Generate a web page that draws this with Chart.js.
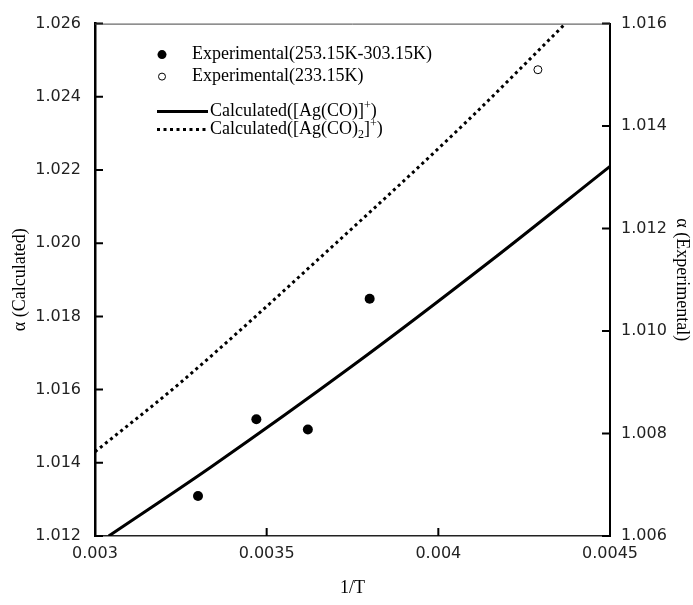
<!DOCTYPE html>
<html>
<head>
<meta charset="utf-8">
<script src="https://cdn.jsdelivr.net/npm/chart.js@4.4.0/dist/chart.umd.min.js"></script>
<style>
  html, body { margin: 0; padding: 0; background: #fff; }
</style>
</head>
<body>
<canvas id="alpha-chart" width="693" height="605"></canvas>
<script>
// values (x = 1/T)
const expX = [0.00330, 0.00347, 0.00362, 0.00380];
const expY = [1.00678, 1.00828, 1.00808, 1.01063];
const exp233X = [0.00429];
const exp233Y = [1.0151];
const calc1X = [0.00304, 0.00334, 0.00375, 0.00415, 0.0045];
const calc1Y = [1.0120, 1.0139, 1.01665, 1.0195, 1.0221];
const calc2X = [0.0030, 0.00325, 0.00369, 0.00408, 0.00437];
const calc2Y = [1.0143, 1.0162, 1.0199, 1.0233, 1.0260];

const xTicks = [0.003, 0.0035, 0.004, 0.0045];
const xTickLabels = ['0.003', '0.0035', '0.004', '0.0045'];
const yLeftTicks = [1.012, 1.014, 1.016, 1.018, 1.020, 1.022, 1.024, 1.026];
const yLeftLabels = ['1.012', '1.014', '1.016', '1.018', '1.020', '1.022', '1.024', '1.026'];
const yRightTicks = [1.006, 1.008, 1.010, 1.012, 1.014, 1.016];
const yRightLabels = ['1.006', '1.008', '1.010', '1.012', '1.014', '1.016'];

const toPts = (xs, ys) => xs.map((x, i) => ({ x: x, y: ys[i] }));

const serif = 'Liberation Serif';
const tickFont = { family: 'DejaVu Sans', size: 16 };
const titleFont = { family: serif, size: 18 };

// inward tick marks + top frame line
const innerTicks = {
  id: 'innerTicks',
  afterDatasetsDraw(chart) {
    const { ctx, chartArea: a, scales } = chart;
    ctx.save();
    ctx.strokeStyle = '#000';
    ctx.lineWidth = 2;
    ctx.beginPath();
    scales.y.ticks.forEach(t => {
      const py = scales.y.getPixelForValue(t.value);
      ctx.moveTo(a.left, py); ctx.lineTo(a.left + 8, py);
    });
    scales.y2.ticks.forEach(t => {
      const py = scales.y2.getPixelForValue(t.value);
      ctx.moveTo(a.right, py); ctx.lineTo(a.right - 8, py);
    });
    scales.x.ticks.forEach(t => {
      const px = scales.x.getPixelForValue(t.value);
      ctx.moveTo(px, a.bottom); ctx.lineTo(px, a.bottom - 8);
    });
    ctx.stroke();
    ctx.strokeStyle = '#444';
    ctx.lineWidth = 1;
    ctx.beginPath();
    ctx.moveTo(a.left, a.top + 0.5); ctx.lineTo(a.right, a.top + 0.5);
    ctx.stroke();
    ctx.restore();
  }
};

// legend drawn inside the plot, like the original
const legendBox = {
  id: 'legendBox',
  afterDraw(chart) {
    const { ctx, chartArea: a } = chart;
    const mx = a.left + 67;
    const rows = [a.top + 31, a.top + 53, a.top + 88, a.top + 106];
    ctx.save();
    ctx.fillStyle = '#000';
    ctx.strokeStyle = '#000';
    ctx.textBaseline = 'middle';
    ctx.font = '18px "' + serif + '"';

    ctx.beginPath(); ctx.arc(mx, rows[0], 4.5, 0, Math.PI * 2); ctx.fill();
    ctx.fillText('Experimental(253.15K-303.15K)', a.left + 97, rows[0]);

    ctx.lineWidth = 1;
    ctx.beginPath(); ctx.arc(mx, rows[1], 3.5, 0, Math.PI * 2); ctx.stroke();
    ctx.fillText('Experimental(233.15K)', a.left + 97, rows[1]);

    ctx.lineWidth = 3;
    ctx.beginPath(); ctx.moveTo(a.left + 62, rows[2]); ctx.lineTo(a.left + 113, rows[2]); ctx.stroke();
    ctx.setLineDash([3, 3.5]);
    ctx.beginPath(); ctx.moveTo(a.left + 62, rows[3]); ctx.lineTo(a.left + 113, rows[3]); ctx.stroke();
    ctx.setLineDash([]);

    const drawParts = (parts, x, y) => {
      parts.forEach(p => {
        ctx.font = (p.small ? '12px "' : '18px "') + serif + '"';
        const dy = p.sup ? -6 : (p.sub ? 5 : 0);
        ctx.fillText(p.t, x, y + dy);
        x += ctx.measureText(p.t).width;
      });
    };
    drawParts([{ t: 'Calculated([Ag(CO)]' }, { t: '+', small: true, sup: true }, { t: ')' }], a.left + 115, rows[2]);
    drawParts([{ t: 'Calculated([Ag(CO)' }, { t: '2', small: true, sub: true }, { t: ']' },
      { t: '+', small: true, sup: true }, { t: ')' }], a.left + 115, rows[3]);
    ctx.restore();
  }
};

const alphaChart = new Chart(document.getElementById('alpha-chart').getContext('2d'), {
  type: 'scatter',
  data: {
    datasets: [
      {
        label: 'Experimental(253.15K-303.15K)',
        data: toPts(expX, expY),
        yAxisID: 'y2',
        pointRadius: 5,
        backgroundColor: '#000',
        borderColor: '#000',
        pointBorderWidth: 0
      },
      {
        label: 'Experimental(233.15K)',
        data: toPts(exp233X, exp233Y),
        yAxisID: 'y2',
        pointRadius: 4,
        backgroundColor: '#fff',
        borderColor: '#000',
        pointBorderWidth: 1
      },
      {
        label: 'Calculated([Ag(CO)]+)',
        data: toPts(calc1X, calc1Y),
        yAxisID: 'y',
        showLine: true,
        pointRadius: 0,
        borderColor: '#000',
        borderWidth: 3,
        cubicInterpolationMode: 'monotone'
      },
      {
        label: 'Calculated([Ag(CO)2]+)',
        data: toPts(calc2X, calc2Y),
        yAxisID: 'y',
        showLine: true,
        pointRadius: 0,
        borderColor: '#000',
        borderWidth: 3,
        borderDash: [3, 3.5],
        cubicInterpolationMode: 'monotone'
      }
    ]
  },
  options: {
    responsive: false,
    animation: false,
    layout: { padding: { top: 22 } },
    plugins: {
      legend: { display: false },
      tooltip: { enabled: false }
    },
    scales: {
      x: {
        type: 'linear',
        min: 0.003,
        max: 0.0045,
        afterBuildTicks: s => { s.ticks = xTicks.map(v => ({ value: v })); },
        afterFit: s => { s.height = 69; },
        grid: { display: false, drawTicks: false, tickLength: 0 },
        border: { color: '#222', width: 1.5 },
        ticks: { color: '#222', font: tickFont, padding: 8, maxRotation: 0, callback: (v, i) => xTickLabels[i] },
        title: { display: true, text: '1/T', color: '#000', font: titleFont, padding: { top: 0, bottom: 6 } }
      },
      y: {
        type: 'linear',
        position: 'left',
        min: 1.012,
        max: 1.026,
        afterBuildTicks: s => { s.ticks = yLeftTicks.map(v => ({ value: v })); },
        afterFit: s => { s.width = 95; },
        grid: { display: false, drawTicks: false, tickLength: 0 },
        border: { color: '#000', width: 2.5 },
        ticks: { color: '#222', font: tickFont, padding: 14, callback: (v, i) => yLeftLabels[i] },
        title: { display: true, text: 'α (Calculated)', color: '#000', font: titleFont, padding: { top: 9, bottom: 0 } }
      },
      y2: {
        type: 'linear',
        position: 'right',
        min: 1.006,
        max: 1.016,
        afterBuildTicks: s => { s.ticks = yRightTicks.map(v => ({ value: v })); },
        afterFit: s => { s.width = 83; },
        grid: { display: false, drawTicks: false, tickLength: 0 },
        border: { color: '#000', width: 2 },
        ticks: { color: '#222', font: tickFont, padding: 11, callback: (v, i) => yRightLabels[i] },
        title: { display: true, text: 'α (Experimental)', color: '#000', font: titleFont, padding: { top: 0, bottom: 0 } }
      }
    }
  },
  plugins: [innerTicks, legendBox]
});
</script>
</body>
</html>
